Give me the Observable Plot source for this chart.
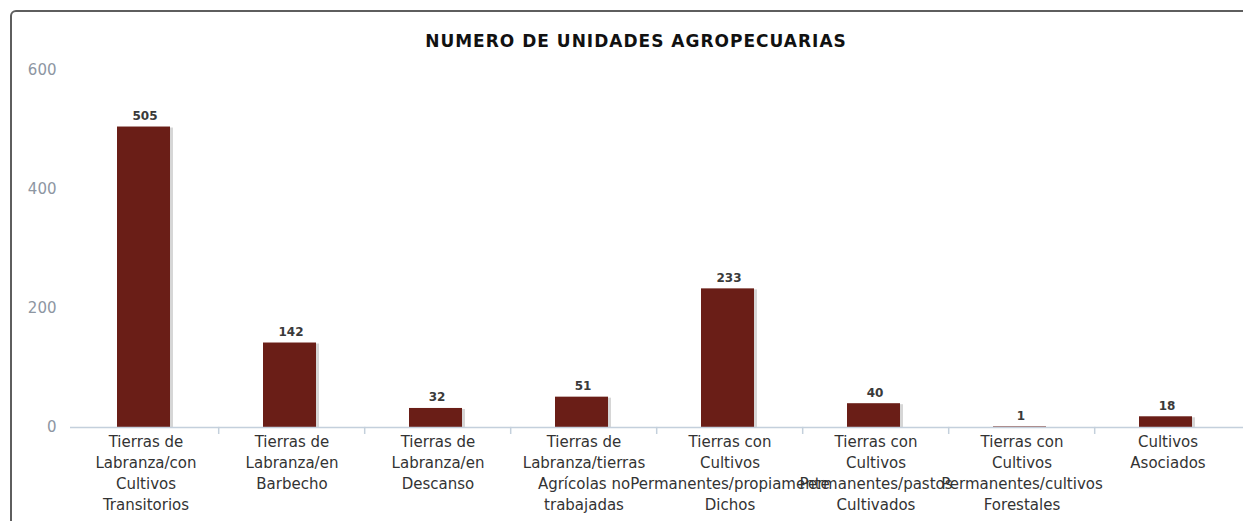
<!DOCTYPE html>
<html><head><meta charset="utf-8">
<script src="https://cdn.jsdelivr.net/npm/d3@7"></script>
<script src="https://cdn.jsdelivr.net/npm/@observablehq/plot@0.6"></script>
<style>
body{margin:0;background:#fff;overflow:hidden;}
#wrap{position:relative;width:1243px;height:521px;overflow:hidden;}
#frame{position:absolute;left:10px;top:10px;width:1300px;height:600px;border:2px solid #5e5e5e;border-radius:6px;box-sizing:border-box;}
#title{position:absolute;left:0;top:31px;width:1272px;text-align:center;font:bold 17px "DejaVu Sans",sans-serif;letter-spacing:1px;color:#111;}
#chart{position:absolute;left:0;top:0;}
</style></head>
<body><div id="wrap"><div id="frame"></div><div id="title">NUMERO DE UNIDADES AGROPECUARIAS</div><div id="chart"></div></div>
<script>
const categories = [
  "Tierras de Labranza/con Cultivos Transitorios",
  "Tierras de Labranza/en Barbecho",
  "Tierras de Labranza/en Descanso",
  "Tierras de Labranza/tierras Agrícolas no trabajadas",
  "Tierras con Cultivos Permanentes/propiamente Dichos",
  "Tierras con Cultivos Permanentes/pastos Cultivados",
  "Tierras con Cultivos Permanentes/cultivos Forestales",
  "Cultivos Asociados"
];
const tickLabels = [
  "Tierras de\nLabranza/con\nCultivos\nTransitorios",
  "Tierras de\nLabranza/en\nBarbecho",
  "Tierras de\nLabranza/en\nDescanso",
  "Tierras de\nLabranza/tierras\nAgrícolas no\ntrabajadas",
  "Tierras con\nCultivos\nPermanentes/propiamente\nDichos",
  "Tierras con\nCultivos\nPermanentes/pastos\nCultivados",
  "Tierras con\nCultivos\nPermanentes/cultivos\nForestales",
  "Cultivos\nAsociados"
];
const values = [505, 142, 32, 51, 233, 40, 1, 18];
const yTicks = [0, 200, 400, 600];

const data = categories.map((c, i) => ({cat: c, label: tickLabels[i], value: values[i]}));
const step = (1243 - 70) / categories.length;

const chart = Plot.plot({
  width: 1243, height: 521,
  marginLeft: 70, marginRight: 0, marginTop: 70, marginBottom: 94,
  style: {fontFamily: "DejaVu Sans, sans-serif", background: "transparent"},
  x: {domain: categories, paddingInner: 0.64, paddingOuter: 0.32, axis: null},
  y: {domain: [0, 600], axis: null},
  marks: [
    Plot.ruleY(yTicks.filter(d => d > 0), {stroke: "#dcdcdc", strokeWidth: 1.5, x1: 68, x2: 1243}),
    Plot.text(yTicks, {y: d => d, text: d => String(d), frameAnchor: "left", dx: -14, textAnchor: "end", fill: "#8d96a2", fontSize: 15}),
    Plot.barY(data, {x: "cat", y: "value", fill: "#8a8a8a", fillOpacity: 0.35, dx: 1, dy: 1}),
    Plot.barY(data, {x: "cat", y: "value", fill: "#6a1e17", dx: -2}),
    Plot.ruleY([0], {stroke: "#c4d0dc", strokeWidth: 1.5}),
    Plot.ruleX(categories.slice(1), {x: d => d, y1: 0, y2: 12, dy: 7, dx: -step / 2, stroke: "#c4d0dc", strokeWidth: 1.5}),
    Plot.text(data, {x: "cat", y: "value", text: d => String(d.value), lineAnchor: "bottom", dy: -7, dx: -1, fontSize: 12, fontWeight: "bold", fill: "#3a3a3a", style: "letter-spacing:2px"}),
    Plot.text(data, {x: "cat", text: "label", frameAnchor: "bottom", lineAnchor: "top", dy: 5, lineHeight: 1.4, fontSize: 15, fill: "#333", style: "letter-spacing:0.5px"})
  ]
});
document.getElementById("chart").appendChild(chart);
</script></body></html>
